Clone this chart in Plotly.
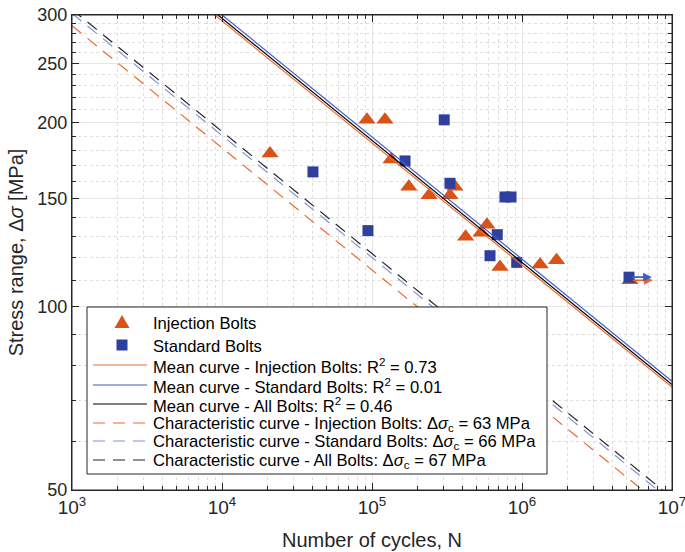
import numpy as np
import plotly.graph_objects as go

# ---------------- data ----------------
inj_N = [20900, 92600, 122000, 134000, 176000, 240000, 331000, 357000, 421000,
         533000, 584000, 713000, 1320000, 1700000]
inj_S = [178, 202, 202, 174, 157, 152, 152, 157, 130, 132, 136, 116, 117, 119]
inj_runout_N = [5250000]
inj_runout_S = [110.3]

std_N = [40400, 94000, 166000, 303000, 331000, 770000, 845000, 684000, 612000, 922000]
std_S = [166, 133, 173, 202, 159, 151, 151, 131, 121, 118]
std_runout_N = [5170000]
std_runout_S = [111.6]

# S-N curve parameters (stress range at 2 million cycles, slope m)
m_slope = 5.0
N_ref = 2e6
mean_ds = {"inj": 101.7, "std": 104.0, "all": 102.7}
char_ds = {"inj": 63, "std": 66, "all": 67}
N_line = [1e3, 1e7]

x_ticks = [1e3, 1e4, 1e5, 1e6, 1e7]
x_ticktext = ["10<sup>3</sup>", "10<sup>4</sup>", "10<sup>5</sup>", "10<sup>6</sup>", "10<sup>7</sup>"]
y_ticks = [50, 100, 150, 200, 250, 300]
x_minor = [k * 10 ** d for d in range(3, 7) for k in range(2, 10)]
y_minor = [v for v in range(60, 300, 10) if v not in y_ticks]

legend_labels = [
    "Injection Bolts",
    "Standard Bolts",
    "Mean curve - Injection Bolts: R<sup>2</sup> = 0.73",
    "Mean curve - Standard Bolts: R<sup>2</sup> = 0.01",
    "Mean curve - All Bolts: R<sup>2</sup> = 0.46",
    "Characteristic curve - Injection Bolts: Δ<i>σ</i><sub>c</sub> = 63 MPa",
    "Characteristic curve - Standard Bolts: Δ<i>σ</i><sub>c</sub> = 66 MPa",
    "Characteristic curve - All Bolts: Δ<i>σ</i><sub>c</sub> = 67 MPa",
]

# ---------------- style ----------------
ORANGE = "#D95319"
BLUE = "#2E3F9E"
L_ORANGE = "#EE6A2E"
L_BLUE = "#3E5DC8"
D_ORANGE = "#EE6A2E"
D_BLUE = "#7C92DA"
D_BLACK = "#222222"
AX = "#262626"
FONT = "Arial, Liberation Sans, sans-serif"
DASH = "12px,8px"

# figure geometry (body margin removed by post_script)
W, H = 685, 552
OFF = 0
PL, PT, PW, PH = 72, 15, 600, 475          # plot area as seen on the page
ML, MT = PL - OFF, PT - OFF
MR = W - ML - PW
MB = H - MT - PH


def px_x(px):
    return (px - PL) / PW


def px_y(py):
    return (PT + PH - py) / PH


def sn(ds, N):
    return [ds * (N_ref / n) ** (1.0 / m_slope) for n in N]


fig = go.Figure()

fig.add_trace(go.Scatter(
    x=inj_N + inj_runout_N, y=inj_S + inj_runout_S, mode="markers",
    name=legend_labels[0], showlegend=False,
    marker=dict(symbol="triangle-up", size=15, color=ORANGE, line=dict(width=0))))
fig.add_trace(go.Scatter(
    x=std_N + std_runout_N, y=std_S + std_runout_S, mode="markers",
    name=legend_labels[1], showlegend=False,
    marker=dict(symbol="square", size=11, color=BLUE, line=dict(width=0))))

curves = [
    (mean_ds["inj"], L_ORANGE, "solid", legend_labels[2]),
    (mean_ds["std"], L_BLUE, "solid", legend_labels[3]),
    (mean_ds["all"], "black", "solid", legend_labels[4]),
    (char_ds["inj"], D_ORANGE, DASH, legend_labels[5]),
    (char_ds["std"], D_BLUE, DASH, legend_labels[6]),
    (char_ds["all"], D_BLACK, DASH, legend_labels[7]),
]
for ds, col, dash, lab in curves:
    fig.add_trace(go.Scatter(x=N_line, y=sn(ds, N_line), mode="lines", name=lab,
                             showlegend=False, line=dict(color=col, width=1.2, dash=dash)))

# run-out arrows
for n, s, c in [(inj_runout_N[0], inj_runout_S[0], "#E8622A"),
                (std_runout_N[0], std_runout_S[0], "#3E5DC8")]:
    fig.add_annotation(x=np.log10(n * 1.42), y=np.log10(s), ax=np.log10(n * 1.02), ay=np.log10(s),
                       xref="x", yref="y", axref="x", ayref="y", text="", showarrow=True,
                       arrowhead=2, arrowsize=1.1, arrowwidth=1.6, arrowcolor=c)

# ---------------- frame + legend box (layout shapes/text) ----------------
shapes = [dict(type="rect", xref="paper", yref="paper", x0=0, x1=1, y0=0, y1=1,
               line=dict(color=AX, width=1), fillcolor="rgba(0,0,0,0)", layer="above"),
          dict(type="rect", xref="paper", yref="paper", x0=px_x(87), x1=px_x(547),
               y0=px_y(474), y1=px_y(307), line=dict(color=AX, width=1), fillcolor="white",
               layer="above")]
row_y = [322, 345, 365, 385, 404, 423, 441, 460]
sym_x = px_x(122)
shapes.append(dict(type="path", xref="paper", yref="paper", xsizemode="pixel", ysizemode="pixel",
                   xanchor=sym_x, yanchor=px_y(row_y[0]), path="M -7.5,-6 L 7.5,-6 L 0,7 Z",
                   fillcolor=ORANGE, line=dict(width=0)))
shapes.append(dict(type="rect", xref="paper", yref="paper", xsizemode="pixel", ysizemode="pixel",
                   xanchor=sym_x, yanchor=px_y(row_y[1]), x0=-5.5, x1=5.5, y0=-5.5, y1=5.5,
                   fillcolor=BLUE, line=dict(width=0)))
for (ds, col, dash, lab), ry in zip(curves, row_y[2:]):
    shapes.append(dict(type="line", xref="paper", yref="paper", x0=px_x(93), x1=px_x(147),
                       y0=px_y(ry), y1=px_y(ry), line=dict(color=col, width=1.2, dash=dash)))
for lab, ry in zip(legend_labels, row_y):
    fig.add_annotation(x=px_x(151), y=px_y(ry + 1), xref="paper", yref="paper", text=lab,
                       showarrow=False, xanchor="left", yanchor="middle",
                       font=dict(family=FONT, size=16.6, color="black"))

fig.update_xaxes(
    type="log", range=[3, 7], tickvals=x_ticks, ticktext=x_ticktext, automargin=False,
    ticklabeloverflow="allow",
    ticks="inside", ticklen=7, tickcolor=AX, showline=True, linecolor=AX,
    linewidth=1, mirror="allticks", showgrid=True, gridcolor="#e6e6e6", gridwidth=1,
    tickfont=dict(family=FONT, size=19, color=AX),
    title=dict(text="Number of cycles, N", font=dict(family=FONT, size=20, color=AX),
               standoff=16),
    minor=dict(tickvals=x_minor, ticks="inside", ticklen=4, tickcolor=AX,
               showgrid=True, gridcolor="#dedede", griddash="dot", gridwidth=1),
    zeroline=False)
fig.update_yaxes(
    type="log", range=[np.log10(50), np.log10(300)], tickvals=y_ticks,
    ticktext=[str(v) for v in y_ticks], automargin=False,
    ticklabeloverflow="allow",
    ticks="inside", ticklen=7, tickcolor=AX, showline=True, linecolor=AX,
    linewidth=1, mirror="allticks", showgrid=True, gridcolor="#e6e6e6", gridwidth=1,
    tickfont=dict(family=FONT, size=18, color=AX),
    title=dict(text="Stress range, Δ<i>σ</i> [MPa]", font=dict(family=FONT, size=20, color=AX),
               standoff=8),
    minor=dict(tickvals=y_minor, ticks="inside", ticklen=4, tickcolor=AX,
               showgrid=True, gridcolor="#dedede", griddash="dot", gridwidth=1),
    zeroline=False)

fig.update_layout(
    width=W, height=H,
    margin=dict(l=ML, r=MR, t=MT, b=MB),
    plot_bgcolor="white", paper_bgcolor="white",
    font=dict(family=FONT, color=AX),
    shapes=shapes,
    showlegend=False)

fig.write_html("out.html", config={"displayModeBar": False},
               post_script="document.body.style.margin='0px';")
